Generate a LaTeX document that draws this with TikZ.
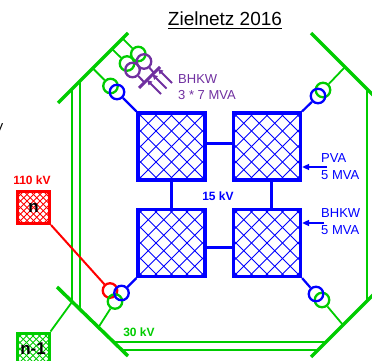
\documentclass[tikz,border=0pt]{standalone}
\usepackage{fontspec}
\setmainfont{Liberation Sans}
\usetikzlibrary{arrows.meta}
\definecolor{grn}{RGB}{0,204,0}
\definecolor{blu}{RGB}{0,0,255}
\definecolor{prp}{RGB}{112,48,160}
\definecolor{rd}{RGB}{255,0,0}
\begin{document}
\begin{tikzpicture}[x=1pt,y=-1pt,
  hatch/.style 2 args={path picture={\foreach \k in {-12,...,12}{
      \draw[#2] ([xshift=\k*#1pt-60pt,yshift=60pt]path picture bounding box.center) -- ++(120,120);
      \draw[#2] ([xshift=\k*#1pt-60pt,yshift=-60pt]path picture bounding box.center) -- ++(120,-120);}}},
  box/.style={draw=blu, line width=3.2pt, minimum size=67pt, inner sep=0pt, hatch={15.5}{blu,line width=1pt}},
  smallbox/.style={line width=3pt, minimum size=32pt, inner sep=0pt, font=\bfseries\fontsize{17}{17}\selectfont, text=black},
  ring/.style={circle, draw, line width=2.3pt, minimum size=14.5pt, inner sep=0pt},
  bus/.style={grn, line width=3.5pt},
  dbl/.style={grn, line width=2pt},
  thinl/.style={grn, line width=1.8pt},
  bl/.style={blu, line width=2.2pt},
  link/.style={blu, line width=3pt},
  lab/.style={font=\fontsize{13}{17.5}\selectfont, align=left, anchor=north west, inner sep=0pt},
  kv/.style={font=\bfseries\fontsize{12}{12}\selectfont, inner sep=0pt},
  arr/.style={blu, line width=1.5pt, -{Triangle[length=7pt,width=6pt]}}
]
\useasboundingbox (0,0) rectangle (372,361);

% title
\node[anchor=base, inner sep=0pt, font=\fontsize{19}{19}\selectfont] (title) at (225,26) {Zielnetz 2016};
\draw[line width=1.6pt] ([yshift=-2.5pt]title.base west) -- ([yshift=-2.5pt]title.base east);

% left fragment
\node[anchor=east, inner sep=0pt, font=\fontsize{13}{13}\selectfont] (vfrag) at (3.5,128) {V};

% green busbars
\coordinate (tlA) at (58,103); \coordinate (tlB) at (128,33);
\coordinate (blA) at (57,287); \coordinate (blB) at (128,356);
\coordinate (trA) at (311,33); \coordinate (trB) at (378,100);
\coordinate (brA) at (311,357); \coordinate (brB) at (378,290);
\draw[bus] (tlA) -- (tlB);
\draw[bus] (blA) -- (blB);
\draw[bus] (trA) -- (trB);
\draw[bus] (brA) -- (brB);
\coordinate (v1t) at (72,89); \coordinate (v1b) at (72,302);
\coordinate (v2t) at (80,81); \coordinate (v2b) at (80,310);
\coordinate (v3t) at (367,89); \coordinate (v3b) at (367,301);
\coordinate (h1l) at (112,342); \coordinate (h1r) at (326,342);
\coordinate (h2l) at (120,350); \coordinate (h2r) at (318,350);
\draw[dbl] (v1t) -- (v1b);
\draw[dbl] (v2t) -- (v2b);
\draw[dbl] (v3t) -- (v3b);
\draw[dbl] (h1l) -- (h1r);
\draw[dbl] (h2l) -- (h2r);

% blue boxes
\node[box] (b1) at (171.5,146.5) {};
\node[box] (b2) at (267,146.5) {};
\node[box] (b3) at (171.5,243) {};
\node[box] (b4) at (267,243) {};
\draw[link] ([yshift=3.5pt]b1.east) -- ([yshift=3.5pt]b2.west);
\draw[link] (b1.south) -- (b3.north);
\draw[link] ([xshift=4pt]b2.south) -- ([xshift=4pt]b4.north);
\draw[link] ([yshift=-4.5pt]b3.east) -- ([yshift=-4.5pt]b4.west);

% circles
\node[ring, grn] (ga) at (138.3,54) {};
\node[ring, grn] (gb) at (127,63.5) {};
\node[ring, prp] (pca) at (144,61.5) {};
\node[ring, prp] (pcb) at (132.5,70) {};
\node[ring, grn] (g1) at (110.5,86) {};
\node[ring, blu] (c1) at (117,92) {};
\node[ring, grn] (g2) at (323,90) {};
\node[ring, blu] (c2) at (318,96) {};
\node[ring, grn] (g4) at (322,300) {};
\node[ring, blu] (c4) at (316,294) {};
\node[ring, rd] (r3) at (110,290.5) {};
\node[ring, grn] (g3) at (115,301.5) {};
\node[ring, blu] (c3) at (121.5,293) {};

% bus to circle
\coordinate (pA) at (122.5,38.5); \coordinate (pB) at (112,49);
\coordinate (p1) at (92.75,68.25); \coordinate (p2) at (345,67);
\coordinate (p3) at (98,328); \coordinate (p4) at (343,325);
\draw[thinl] (pA) -- (ga);
\draw[thinl] (pB) -- (gb);
\draw[thinl] (p1) -- (g1);
\draw[thinl] (p2) -- (g2);
\draw[thinl] (p3) -- (g3);
\draw[thinl] (p4) -- (g4);

% box corners to circles
\draw[bl] (b1.north west) -- (c1);
\draw[bl] (b2.north east) -- (c2);
\draw[bl] (b3.south west) -- (c3);
\draw[bl] (b4.south east) -- (c4);

% purple generator symbol
\coordinate (pr1) at (139,88); \coordinate (pr2) at (160,67);
\draw[prp, line width=3pt] (pr1) -- (pr2);
\coordinate (q1) at (154,73); \coordinate (q2) at (144.5,82.5);
\draw[prp, line width=2pt] (pca) -- (q1);
\draw[prp, line width=2pt] (pcb) -- (q2);
\coordinate (t1) at (161,94); \coordinate (t2) at (166.5,88.5); \coordinate (t3) at (172,83);
\coordinate (h1) at (147,80); \coordinate (h2) at (152.5,74.5); \coordinate (h3) at (158,69);
\draw[prp, line width=1.8pt, -{Triangle[length=5pt,width=5pt]}] (t1) -- (h1);
\draw[prp, line width=1.8pt, -{Triangle[length=5pt,width=5pt]}] (t2) -- (h2);
\draw[prp, line width=1.8pt, -{Triangle[length=5pt,width=5pt]}] (t3) -- (h3);
\node[lab, prp, font=\fontsize{13}{16}\selectfont] (lgen) at (178,74) {BHKW\\3 * 7 MVA};

% infeeds
\node[lab, blu] (lpva) at (321,153) {PVA\\5 MVA};
\node[lab, blu] (lbhkw) at (321,208) {BHKW\\5 MVA};
\coordinate (a1) at (327,167);
\coordinate (a2) at (324,223);
\draw[arr] (a1) -- (a1 -| b2.east);
\draw[arr] (a2) -- (a2 -| b4.east);

% voltage labels
\node[kv, blu] (l15) at (218,196.5) {15 kV};
\node[kv, grn] (l30) at (139,332) {30 kV};
\node[kv, rd] (l110) at (32,180) {110 kV};

% external grids
\node[smallbox, draw=rd, hatch={6.5}{rd,line width=0.8pt}] (nbox) at (33.5,207.5) {\raisebox{-2.5pt}{n}};
\node[smallbox, draw=grn, hatch={6.5}{grn,line width=0.8pt}] (n1box) at (33,349) {\raisebox{-3pt}{n-1}};
\draw[rd, line width=2pt] (nbox.south east) -- (r3);
\draw[thinl] (n1box.north east) -- (v1b);
\end{tikzpicture}
\end{document}
